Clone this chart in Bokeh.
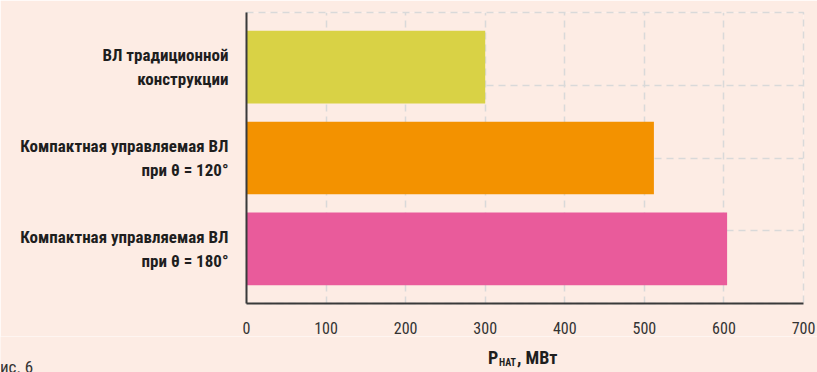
from bokeh.plotting import figure
from bokeh.models import Range1d, Grid, FixedTicker, Label
from bokeh.embed import file_html
from bokeh.resources import INLINE

categories = ["ВЛ традиционной\nконструкции",
              "Компактная управляемая ВЛ\nпри θ = 120°",
              "Компактная управляемая ВЛ\nпри θ = 180°"]
values = [300, 512, 604]
colors = ["#d9d245", "#f39200", "#e95b9b"]
x_ticks = [0, 100, 200, 300, 400, 500, 600, 700]
x_min, x_max = 0, 700

BG = "#fdece4"
GRID = "#d9d9d9"
FONT = "Roboto Condensed"

W, H = 817, 372
LEFT, RIGHT, TOP = 246, 14, 12
H2 = 36                      # strip below for the axis title
H1 = H - H2

n = len(categories)
ypos = [n - 1 - i for i in range(n)]  # first category on top
pad = 0.101

p = figure(width=W, height=H1, output_backend="svg", toolbar_location=None,
           y_range=Range1d(-0.5 - pad, n - 0.5 + pad),
           x_range=Range1d(x_min, x_max),
           min_border_left=LEFT, min_border_right=RIGHT, min_border_top=TOP,
           min_border_bottom=31)
p.background_fill_color = BG
p.border_fill_color = BG
p.outline_line_color = GRID
p.outline_line_width = 1.5
p.outline_line_dash = "7 5"

p.hbar(y=ypos, right=values, left=0, height=0.8, color=colors, line_color=None)

# grids
p.ygrid.grid_line_color = None
p.xgrid.ticker = FixedTicker(ticks=x_ticks[1:])
p.xgrid.grid_line_color = GRID
p.xgrid.grid_line_width = 1.5
p.xgrid.grid_line_dash = "7 5"

p.extra_y_ranges = {"grid": Range1d(0, 4)}
hg = Grid(dimension=1, y_range_name="grid", ticker=FixedTicker(ticks=[1, 2, 3]),
          grid_line_color=GRID, grid_line_width=1.5, grid_line_dash="7 5")
p.add_layout(hg)

# axes
for ax in (p.xaxis[0], p.yaxis[0]):
    ax.axis_line_color = "#3a3a3a"
    ax.axis_line_width = 2
    ax.major_tick_line_color = None
    ax.minor_tick_line_color = None
    ax.major_label_text_color = "#1e1e1e"
    ax.major_label_text_font = FONT

p.xaxis.ticker = FixedTicker(ticks=x_ticks)
p.xaxis.major_label_text_font_size = "16px"
p.xaxis.major_label_standoff = 12
p.xaxis.major_label_text_color = "#333333"

p.yaxis.ticker = FixedTicker(ticks=ypos)
p.yaxis.major_label_overrides = {y: c for y, c in zip(ypos, categories)}
p.yaxis.major_label_text_font_size = "17px"
p.yaxis.major_label_text_font_style = "bold"
p.yaxis.major_label_text_line_height = 1.18
p.yaxis.major_label_standoff = 12

# strip below: same x mapping as the main frame, spanning the whole width
plot_w = W - LEFT - RIGHT
ppu = plot_w / (x_max - x_min)
p2 = figure(width=W, height=H2, output_backend="svg", toolbar_location=None,
            x_range=Range1d(x_min - LEFT / ppu, x_max + RIGHT / ppu),
            y_range=Range1d(0, H2),
            min_border=0, x_axis_type=None, y_axis_type=None)
p2.background_fill_color = BG
p2.border_fill_color = BG
p2.outline_line_color = None
p2.grid.visible = False

xc = (x_min + x_max) / 2
p2.add_layout(Label(x=xc, y=15, x_offset=-37, text="Р",
                    text_font=FONT, text_font_style="bold", text_font_size="18px",
                    text_color="#1e1e1e", text_baseline="alphabetic"))
p2.add_layout(Label(x=xc, y=10, x_offset=-26, text="НАТ",
                    text_font=FONT, text_font_style="bold", text_font_size="10px",
                    text_color="#1e1e1e", text_baseline="alphabetic"))
p2.add_layout(Label(x=xc, y=15, x_offset=-8, text=", МВт",
                    text_font=FONT, text_font_style="bold", text_font_size="18px",
                    text_color="#1e1e1e", text_baseline="alphabetic"))
p2.add_layout(Label(x=x_min - LEFT / ppu, y=6, x_offset=-10, text="Рис. 6",
                    text_font=FONT, text_font_size="17px",
                    text_color="#333333", text_baseline="alphabetic"))

open("out.html", "w").write(file_html([p, p2], INLINE))
